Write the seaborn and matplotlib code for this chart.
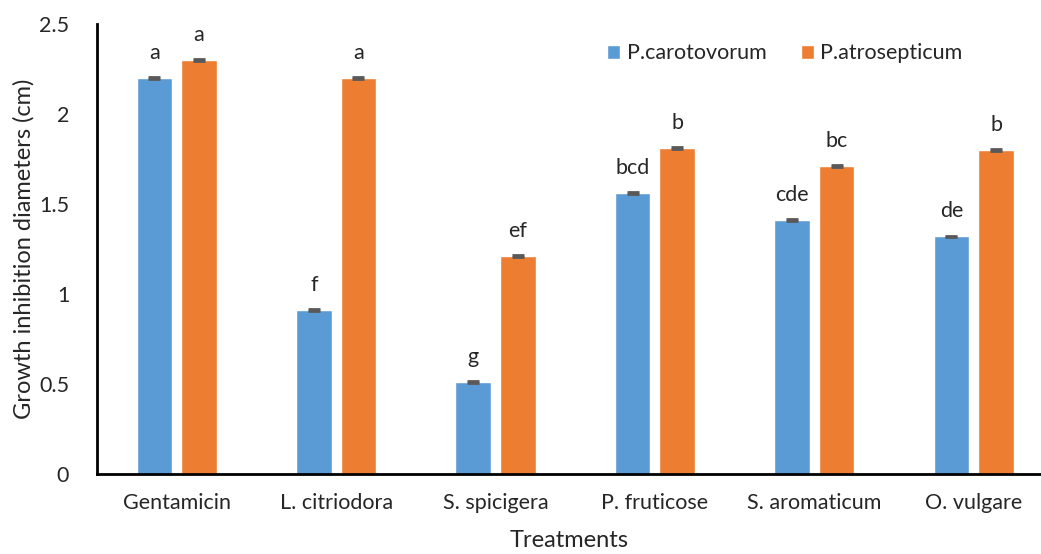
import numpy as np
import pandas as pd
import matplotlib
matplotlib.use('Agg')
import matplotlib.pyplot as plt
import seaborn as sns

# data
treatments = ['Gentamicin', 'L. citriodora', 'S. spicigera',
              'P. fruticose', 'S. aromaticum', 'O. vulgare']
species = ['P.carotovorum', 'P.atrosepticum']
carotovorum = [2.20, 0.91, 0.51, 1.56, 1.41, 1.32]
atrosepticum = [2.30, 2.20, 1.21, 1.81, 1.71, 1.80]
carotovorum_err = [0.004, 0.004, 0.004, 0.004, 0.004, 0.004]
atrosepticum_err = [0.004, 0.004, 0.004, 0.004, 0.004, 0.004]
carotovorum_letters = ['a', 'f', 'g', 'bcd', 'cde', 'de']
atrosepticum_letters = ['a', 'a', 'ef', 'b', 'bc', 'b']

df = pd.DataFrame({
    'Treatment': treatments * 2,
    'Species': [species[0]] * len(treatments) + [species[1]] * len(treatments),
    'Value': carotovorum + atrosepticum,
})

sns.set_style('white')
plt.rcParams['font.family'] = ['Lato', 'DejaVu Sans']

fig = plt.figure(figsize=(10.41, 5.54), dpi=100)
ax = fig.add_axes([97 / 1041, 80 / 554, 944 / 1041, 450 / 554])

sns.barplot(data=df, x='Treatment', y='Value', hue='Species',
            order=treatments, hue_order=species,
            palette=['#5B9BD5', '#ED7D31'], saturation=1,
            width=0.56, gap=0.2, errorbar=None, ax=ax)

errs = [carotovorum_err, atrosepticum_err]
letters = [carotovorum_letters, atrosepticum_letters]
for cont, err, labs in zip(ax.containers, errs, letters):
    xs = [p.get_x() + p.get_width() / 2 for p in cont.patches]
    ys = [p.get_height() for p in cont.patches]
    ax.errorbar(xs, ys, yerr=err, fmt='none', ecolor='#595959',
                elinewidth=1.2, capsize=4.5, capthick=2)
    for x, y, lab in zip(xs, ys, labs):
        ax.annotate(lab, (x, y), xytext=(0, 18), textcoords='offset points',
                    ha='center', va='center', fontsize=15.5, color='#262626')

ax.set_xlim(-0.5, -0.5 + 944 / 159.4)
ax.set_ylim(0, 2.5)
ax.set_yticks([0, 0.5, 1, 1.5, 2, 2.5])
ax.set_yticklabels(['0', '0.5', '1', '1.5', '2', '2.5'])
ax.tick_params(axis='both', length=0, labelsize=15.5, labelcolor='#262626')
ax.tick_params(axis='y', pad=20)
ax.tick_params(axis='x', pad=14)

for s in ['top', 'right']:
    ax.spines[s].set_visible(False)
for s in ['left', 'bottom']:
    ax.spines[s].set_color('black')
    ax.spines[s].set_linewidth(2)

ax.set_xlabel('Treatments', fontsize=17, color='#262626', labelpad=12)
ax.set_ylabel('Growth inhibition diameters (cm)', fontsize=17,
              color='#262626', labelpad=3)

ax.legend(loc='upper left', bbox_to_anchor=(0.52, 1.0), ncol=2,
          frameon=False, fontsize=15.5, handlelength=0.6, handleheight=0.6,
          columnspacing=1.6, handletextpad=0.3)

fig.savefig('out.png', dpi=100)
